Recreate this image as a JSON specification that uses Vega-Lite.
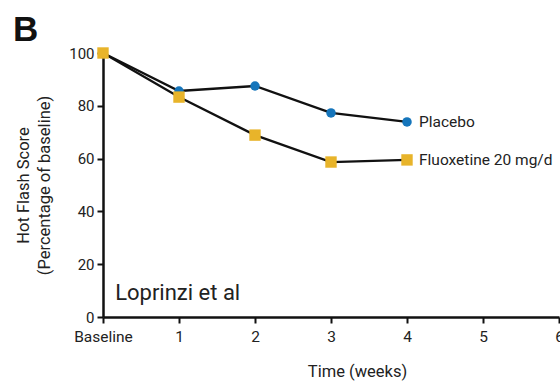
{
  "$schema": "https://vega.github.io/schema/vega-lite/v6.json",
  "width": 456,
  "height": 264,
  "autosize": {"type": "none"},
  "padding": {"left": 103, "top": 53, "right": 1, "bottom": 69},
  "background": "white",
  "config": {
    "view": {"stroke": null},
    "font": "Roboto, Liberation Sans, sans-serif"
  },
  "title": {
    "text": "B",
    "anchor": "start",
    "frame": "group",
    "dx": -90,
    "offset": -2,
    "fontSize": 35,
    "fontWeight": "bold",
    "color": "#111111",
    "font": "Liberation Sans, Roboto, sans-serif"
  },
  "datasets": {
    "series": [
      {"week": 0, "score": 100, "group": "Placebo"},
      {"week": 1, "score": 85.6, "group": "Placebo"},
      {"week": 2, "score": 87.5, "group": "Placebo"},
      {"week": 3, "score": 77.3, "group": "Placebo"},
      {"week": 4, "score": 73.9, "group": "Placebo"},
      {"week": 0, "score": 100, "group": "Fluoxetine 20 mg/d"},
      {"week": 1, "score": 83.3, "group": "Fluoxetine 20 mg/d"},
      {"week": 2, "score": 68.9, "group": "Fluoxetine 20 mg/d"},
      {"week": 3, "score": 58.7, "group": "Fluoxetine 20 mg/d"},
      {"week": 4, "score": 59.5, "group": "Fluoxetine 20 mg/d"}
    ],
    "note": [{"week": 0.16, "score": 9.1, "label": "Loprinzi et al"}]
  },
  "layer": [
    {
      "data": {"name": "series"},
      "mark": {"type": "line", "color": "#111111", "strokeWidth": 2.3},
      "encoding": {
        "x": {
          "field": "week", "type": "quantitative",
          "scale": {"domain": [0, 6], "nice": false, "zero": false},
          "axis": {
            "values": [0, 1, 2, 3, 4, 5, 6],
            "format": "d",
            "labelExpr": "datum.value == 0 ? 'Baseline' : datum.label",
            "grid": false,
            "domainColor": "#111111", "domainWidth": 2.5,
            "tickColor": "#111111", "tickWidth": 2, "tickSize": 6,
            "labelFontSize": 15.5, "labelColor": "#222222", "labelPadding": 6,
            "labelFlush": false, "labelOverlap": false,
            "title": "Time (weeks)", "titleFontSize": 16.5, "titleFontWeight": "normal",
            "titleColor": "#222222", "titlePadding": 19, "titleX": 254
          }
        },
        "y": {
          "field": "score", "type": "quantitative",
          "scale": {"domain": [0, 100], "nice": false},
          "axis": {
            "values": [0, 20, 40, 60, 80, 100],
            "grid": false,
            "domainColor": "#111111", "domainWidth": 2.5,
            "tickColor": "#111111", "tickWidth": 2, "tickSize": 6,
            "labelFontSize": 15, "labelColor": "#222222", "labelPadding": 3,
            "title": ["Hot Flash Score", "(Percentage of baseline)"],
            "titleFontSize": 16.5, "titleFontWeight": "normal", "titleColor": "#222222",
            "titlePadding": 16, "titleLineHeight": 21
          }
        },
        "detail": {"field": "group"}
      }
    },
    {
      "data": {"name": "series"},
      "mark": {"type": "point", "filled": true, "opacity": 1},
      "encoding": {
        "x": {"field": "week", "type": "quantitative"},
        "y": {"field": "score", "type": "quantitative"},
        "shape": {
          "field": "group", "type": "nominal",
          "scale": {"domain": ["Placebo", "Fluoxetine 20 mg/d"], "range": ["circle", "square"]},
          "legend": null
        },
        "color": {
          "field": "group", "type": "nominal",
          "scale": {"domain": ["Placebo", "Fluoxetine 20 mg/d"], "range": ["#1575bb", "#e8b42a"]},
          "legend": null
        },
        "size": {
          "field": "group", "type": "nominal",
          "scale": {"domain": ["Placebo", "Fluoxetine 20 mg/d"], "range": [90, 130]},
          "legend": null
        }
      }
    },
    {
      "data": {"name": "series"},
      "transform": [{"filter": "datum.week == 4"}],
      "mark": {"type": "text", "align": "left", "baseline": "middle", "dx": 12, "fontSize": 15.5, "color": "#222222"},
      "encoding": {
        "x": {"field": "week", "type": "quantitative"},
        "y": {"field": "score", "type": "quantitative"},
        "text": {"field": "group"}
      }
    },
    {
      "data": {"name": "note"},
      "mark": {"type": "text", "align": "left", "baseline": "middle", "fontSize": 22, "color": "#222222"},
      "encoding": {
        "x": {"field": "week", "type": "quantitative"},
        "y": {"field": "score", "type": "quantitative"},
        "text": {"field": "label"}
      }
    }
  ]
}
